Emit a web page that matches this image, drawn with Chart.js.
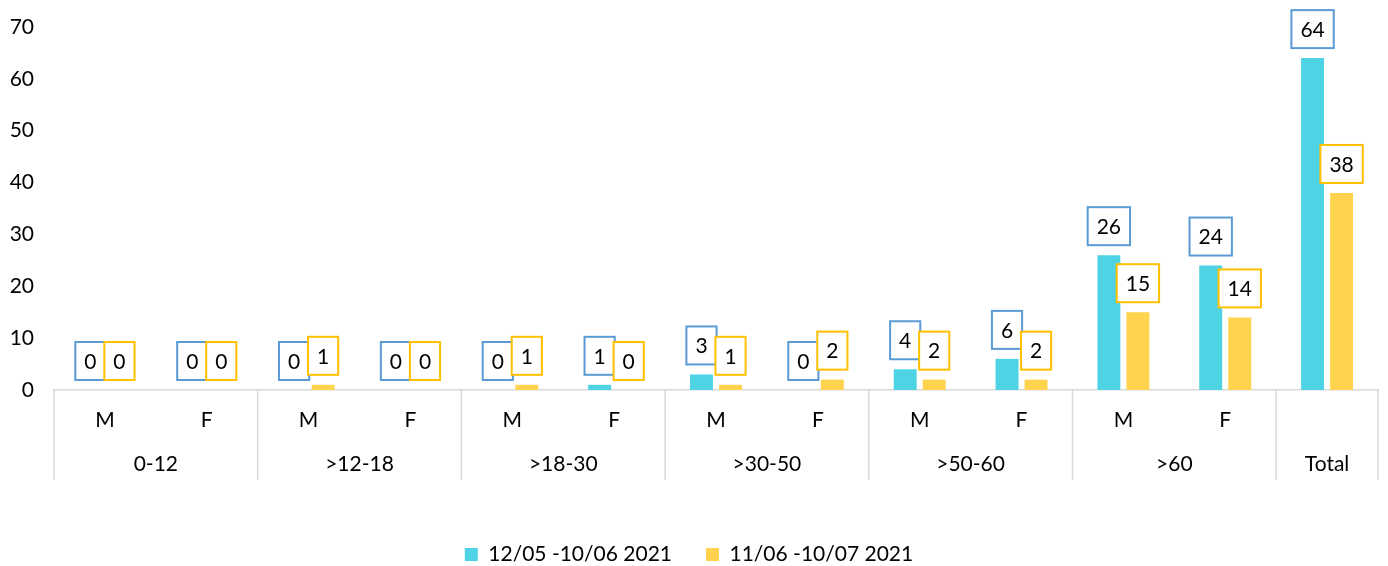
<!DOCTYPE html>
<html>
<head>
<meta charset="utf-8">
<script src="https://cdn.jsdelivr.net/npm/chart.js@4"></script>
<style>
  html, body { margin: 0; padding: 0; background: #fff; }
  #wrap { width: 1388px; height: 566px; }
</style>
</head>
<body>
<div id="wrap"><canvas id="myChart"></canvas></div>
<script>
// data
const subLabels = ['M', 'F', 'M', 'F', 'M', 'F', 'M', 'F', 'M', 'F', 'M', 'F', ''];
const groupLabels = ['0-12', '>12-18', '>18-30', '>30-50', '>50-60', '>60', 'Total'];
const groupSpans = [2, 2, 2, 2, 2, 2, 1];
const seriesNames = ['12/05 -10/06 2021', '11/06 -10/07 2021'];
const period1 = [0, 0, 0, 0, 0, 1, 3, 0, 4, 6, 26, 24, 64];
const period2 = [0, 0, 1, 0, 1, 0, 1, 2, 2, 2, 15, 14, 38];
const yTicks = [0, 10, 20, 30, 40, 50, 60, 70];

const FONT = "Lato, 'Open Sans', sans-serif";
const FSIZE = 21;
const barColors = ['#4DD3E3', '#FFD34D'];
const boxColors = ['#5B9BD5', '#FFC000'];

// boxed value labels above every bar
const boxLabels = {
  id: 'boxLabels',
  afterDatasetsDraw(chart) {
    const ctx = chart.ctx;
    ctx.save();
    ctx.font = FSIZE + 'px ' + FONT;
    ctx.textAlign = 'center';
    ctx.textBaseline = 'middle';
    chart.data.datasets.forEach((ds, di) => {
      const meta = chart.getDatasetMeta(di);
      meta.data.forEach((bar, i) => {
        const txt = String(ds.data[i]);
        const w = ctx.measureText(txt).width + 18;
        const h = 38;
        const bottom = bar.y - 10;
        ctx.fillStyle = '#fff';
        ctx.fillRect(bar.x - w / 2, bottom - h, w, h);
        ctx.strokeStyle = boxColors[di];
        ctx.lineWidth = 2;
        ctx.strokeRect(bar.x - w / 2, bottom - h, w, h);
        ctx.fillStyle = '#000';
        ctx.fillText(txt, bar.x, bottom - h / 2 + 1);
      });
    });
    ctx.restore();
  }
};

// group row + separators under the x axis; nudge legend down
const groupAxis = {
  id: 'groupAxis',
  afterLayout(chart) {
    const lg = chart.legend;
    if (lg) { lg.top += 9; lg.bottom += 9; }
  },
  afterDraw(chart) {
    const ctx = chart.ctx;
    const x = chart.scales.x;
    const top = chart.chartArea.bottom;
    const step = (x.right - x.left) / subLabels.length;
    ctx.save();
    ctx.strokeStyle = '#D9D9D9';
    ctx.lineWidth = 1.5;
    ctx.font = FSIZE + 'px ' + FONT;
    ctx.fillStyle = '#000';
    ctx.textAlign = 'center';
    ctx.textBaseline = 'middle';
    let idx = 0;
    const line = (px) => {
      ctx.beginPath();
      ctx.moveTo(px, top);
      ctx.lineTo(px, top + 90);
      ctx.stroke();
    };
    line(x.getPixelForValue(0) - step / 2);
    groupLabels.forEach((g, gi) => {
      const first = x.getPixelForValue(idx) - step / 2;
      idx += groupSpans[gi];
      const last = x.getPixelForValue(idx - 1) + step / 2;
      line(last);
      ctx.fillText(g, (first + last) / 2, top + 74);
    });
    ctx.restore();
  }
};

const data = {
  labels: subLabels,
  datasets: [{
    label: seriesNames[0],
    data: period1,
    backgroundColor: barColors[0],
    categoryPercentage: 0.57,
    barPercentage: 0.79
  }, {
    label: seriesNames[1],
    data: period2,
    backgroundColor: barColors[1],
    categoryPercentage: 0.57,
    barPercentage: 0.79
  }]
};

const config = {
  type: 'bar',
  data,
  plugins: [boxLabels, groupAxis],
  options: {
    responsive: true,
    maintainAspectRatio: false,
    animation: false,
    layout: { padding: { top: 27, right: 10, bottom: 0, left: 0 } },
    plugins: {
      legend: {
        position: 'bottom',
        labels: {
          boxWidth: 13,
          boxHeight: 13,
          padding: 34,
          color: '#000',
          font: { size: FSIZE, family: FONT }
        }
      },
      tooltip: { enabled: false }
    },
    scales: {
      x: {
        grid: { display: false, drawTicks: false },
        border: { display: true, color: '#D9D9D9', width: 1.5 },
        ticks: {
          padding: 18,
          color: '#000',
          font: { size: FSIZE, family: FONT },
          maxRotation: 0,
          autoSkip: false
        },
        afterFit(s) { s.height = 111; }
      },
      y: {
        min: 0,
        max: 70,
        grid: { display: false, drawTicks: false },
        border: { display: false },
        afterBuildTicks(s) { s.ticks = yTicks.map(v => ({ value: v })); },
        ticks: {
          padding: 20,
          color: '#000',
          font: { size: FSIZE, family: FONT, lineHeight: 0.6 }
        },
        afterFit(s) { s.width = 54; }
      }
    }
  }
};

new Chart(document.getElementById('myChart'), config);
</script>
</body>
</html>
